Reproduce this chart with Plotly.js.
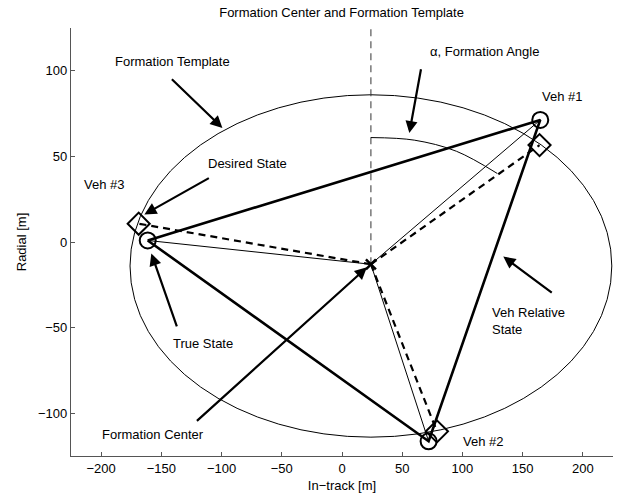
<!DOCTYPE html>
<html>
<head>
<meta charset="utf-8">
<script src="https://cdn.plot.ly/plotly-3.0.1.min.js"></script>
<style>body{margin:0;padding:0;background:#fff}#chart{width:621px;height:500px}</style>
</head>
<body>
<div id="chart"></div>
<script>
// ---- data ----
const vehicles = ["Veh #1", "Veh #2", "Veh #3"];
const trueX = [164.6, 71.9, -161.3];
const trueY = [71.3, -116.4, 0.9];
const desiredX = [164.0, 78.8, -168.8];
const desiredY = [56.6, -110.6, 10.7];
const centerX = 24;
const centerY = -13;
// formation template ellipse (bounding box)
const templateX = [-176, 224];
const templateY = [-114, 86];
// formation angle arc points
const arcX = [24, 60, 95, 129];
const arcY = [61, 59.5, 53, 40];
const yTop = 125;
const xTicks = [-200, -150, -100, -50, 0, 50, 100, 150, 200];
const yTicks = [-100, -50, 0, 50, 100];

const FONT = "Liberation Sans, Arial, Helvetica, sans-serif";
const traces = [];

// thick solid triangle through true states (3 -> 1 -> 2 -> 3)
const order = [2, 0, 1, 2];
traces.push({
  x: order.map(i => trueX[i]), y: order.map(i => trueY[i]),
  mode: "lines", line: {color: "#000", width: 2.6}, hoverinfo: "skip"
});
// thin spokes center -> true
let sx = [], sy = [];
for (let i = 0; i < 3; i++) { sx.push(centerX, trueX[i], null); sy.push(centerY, trueY[i], null); }
traces.push({x: sx, y: sy, mode: "lines", line: {color: "#000", width: 1}, hoverinfo: "skip"});
// thick dashed spokes center -> desired
let dx = [], dy = [];
for (let i = 0; i < 3; i++) { dx.push(centerX, desiredX[i], null); dy.push(centerY, desiredY[i], null); }
traces.push({x: dx, y: dy, mode: "lines", line: {color: "#000", width: 2.2, dash: "7px,5px"}, hoverinfo: "skip"});
// vertical reference line
traces.push({x: [centerX, centerX], y: [centerY, yTop], mode: "lines",
  line: {color: "#333", width: 1, dash: "7px,5px"}, hoverinfo: "skip"});
// angle arc
traces.push({x: arcX, y: arcY, mode: "lines", line: {color: "#000", width: 1, shape: "spline"}, hoverinfo: "skip"});
// markers
traces.push({x: trueX, y: trueY, mode: "markers",
  marker: {symbol: "circle-open", size: 16, color: "#000", line: {width: 2, color: "#000"}}, hoverinfo: "skip"});
traces.push({x: desiredX, y: desiredY, mode: "markers",
  marker: {symbol: "diamond-open", size: 17, color: "#000", line: {width: 2, color: "#000"}}, hoverinfo: "skip"});
traces.push({x: [centerX], y: [centerY], mode: "markers",
  marker: {symbol: "x-thin-open", size: 10, color: "#000", line: {width: 2.5, color: "#000"}}, hoverinfo: "skip"});

// labels and arrows
const labels = [
  {t: "Formation Template", x: -140.8, y: 105.3},
  {t: "α, Formation Angle", x: 118, y: 111.1},
  {t: "Veh #1", x: 182.8, y: 84.7},
  {t: "Desired State", x: -78.6, y: 46},
  {t: "Veh #3", x: -197.3, y: 33.7},
  {t: "True State", x: -115, y: -59.5},
  {t: "Formation Center", x: -156.6, y: -112.3},
  {t: "Veh #2", x: 117.2, y: -116.4}
];
const arrows = [
  {tx: -142.5, ty: 95.9, hx: -99.3, hy: 66.6},
  {tx: 65.8, ty: 101.8, hx: 55.9, hy: 63.6},
  {tx: -109.3, ty: 37.8, hx: -164.1, hy: 16.1},
  {tx: -136.7, ty: -50.1, hx: -158.3, hy: -6.7},
  {tx: -121.7, ty: -105.3, hx: 20.7, hy: -14.8},
  {tx: 175.4, ty: -30.2, hx: 133.9, hy: -8.5}
];
const annotations = labels.map(l => ({
  x: l.x, y: l.y, xref: "x", yref: "y", text: l.t, showarrow: false,
  font: {family: FONT, size: 13, color: "#000"}
}));
annotations.push({x: 123, y: -46, xref: "x", yref: "y", text: "Veh Relative<br>State",
  showarrow: false, xanchor: "left", align: "left", font: {family: FONT, size: 13, color: "#000"}});
arrows.forEach(a => annotations.push({
  x: a.hx, y: a.hy, ax: a.tx, ay: a.ty, xref: "x", yref: "y", axref: "x", ayref: "y",
  text: "", showarrow: true, arrowhead: 2, arrowsize: 1.1, arrowwidth: 2.2, arrowcolor: "#000", standoff: 0
}));

const axisCommon = {
  showgrid: false, zeroline: false, showline: true, linecolor: "#555", linewidth: 1.2,
  ticks: "inside", ticklen: 4, tickcolor: "#555", mirror: false,
  tickfont: {family: FONT, size: 13, color: "#000"}, fixedrange: true
};
const layout = {
  width: 621, height: 500,
  margin: {l: 71, r: 8, t: 28, b: 44, pad: 0},
  paper_bgcolor: "#fff", plot_bgcolor: "#fff",
  showlegend: false,
  title: {text: "Formation Center and Formation Template", font: {family: FONT, size: 13, color: "#000"},
    x: 0.55, xanchor: "center", y: 0.975, yanchor: "middle"},
  xaxis: Object.assign({}, axisCommon, {range: [-225, 225], tickvals: xTicks,
    title: {text: "In−track [m]", font: {family: FONT, size: 13, color: "#000"}, standoff: 6}}),
  yaxis: Object.assign({}, axisCommon, {range: [-125, 125], tickvals: yTicks,
    title: {text: "Radial [m]", font: {family: FONT, size: 13, color: "#000"}, standoff: 8}}),
  shapes: [{type: "circle", xref: "x", yref: "y", x0: templateX[0], x1: templateX[1],
    y0: templateY[0], y1: templateY[1], line: {color: "#000", width: 1}, layer: "below"}],
  annotations: annotations
};
Plotly.newPlot("chart", traces, layout, {displayModeBar: false, staticPlot: true});
</script>
</body>
</html>
